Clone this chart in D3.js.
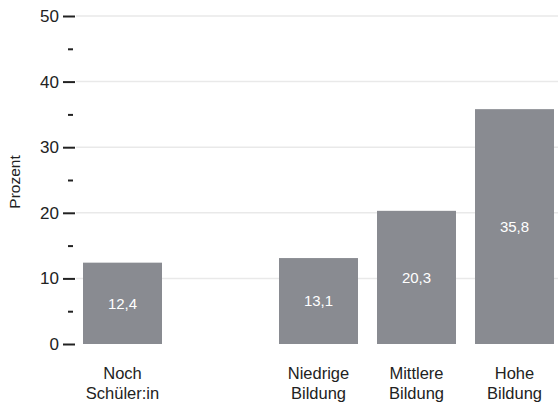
<!DOCTYPE html>
<html><head><meta charset="utf-8">
<script src="https://cdn.jsdelivr.net/npm/d3@7"></script>
<style>body{margin:0;background:#fff;font-family:Arial,"Liberation Sans",sans-serif;}</style>
</head><body><svg id="c" width="558" height="407"></svg>
<script>
const categories = ["Noch\nSchüler:in", "", "Niedrige\nBildung", "Mittlere\nBildung", "Hohe\nBildung"];
const values = [12.4, null, 13.1, 20.3, 35.8];
const majorTicks = [0, 10, 20, 30, 40, 50];
const minorTicks = [5, 15, 25, 35, 45];
const yTitle = "Prozent";

const FONT = "Arial, 'Liberation Sans', sans-serif";
const svg = d3.select("#c").style("font-family", FONT);
const y = d3.scaleLinear().domain([0, 50]).range([344, 16]);
const x = d3.scaleBand().domain(categories.map((c,i)=>i)).range([73.2, 563.8]).paddingInner(0.194).paddingOuter(0.1);

svg.append("g").selectAll("line").data(majorTicks.slice(1)).join("line")
  .attr("x1", 76).attr("x2", 558).attr("y1", d=>y(d)).attr("y2", d=>y(d))
  .attr("stroke", "#e9e9e9").attr("stroke-width", 1.5);

const ax = svg.append("g").attr("transform", "translate(75,0)")
  .call(d3.axisLeft(y).tickValues(majorTicks).tickSize(12).tickPadding(4).tickFormat(d3.format("d")));
ax.select(".domain").remove();
ax.selectAll(".tick line").attr("stroke", "#222").attr("stroke-width", 2);
ax.selectAll(".tick text").attr("fill", "#222").style("font-size", "17px").style("font-family", FONT);

const mx = svg.append("g").attr("transform", "translate(73,0)")
  .call(d3.axisLeft(y).tickValues(minorTicks).tickSize(5).tickFormat(""));
mx.select(".domain").remove();
mx.selectAll(".tick line").attr("stroke", "#222").attr("stroke-width", 2);

svg.append("text").attr("transform", "translate(20,182) rotate(-90)")
  .attr("text-anchor", "middle").attr("fill", "#222").style("font-size", "15.5px").text(yTitle);

const data = categories.map((c,i)=>({c, i, v: values[i]})).filter(d=>d.v!=null);

svg.append("g").selectAll("rect").data(data).join("rect")
  .attr("x", d=>x(d.i)).attr("width", x.bandwidth())
  .attr("y", d=>y(d.v)).attr("height", d=>y(0)-y(d.v))
  .attr("fill", "#898b91");

const fmt = v => d3.format(".1f")(v).replace(".", ",");
svg.append("g").selectAll("text").data(data).join("text")
  .attr("x", d=>x(d.i)+x.bandwidth()/2).attr("y", d=>(y(d.v)+y(0))/2)
  .attr("dy", "0.35em").attr("text-anchor", "middle").attr("fill", "#fff")
  .style("font-size", "15px").text(d=>fmt(d.v));

const lab = svg.append("g").selectAll("text").data(data).join("text")
  .attr("x", d=>x(d.i)+x.bandwidth()/2).attr("y", 379)
  .attr("text-anchor", "middle").attr("fill", "#222").style("font-size", "16.5px");
lab.selectAll("tspan").data(d=>d.c.split("\n").map(t=>({t, x: x(d.i)+x.bandwidth()/2}))).join("tspan")
  .attr("x", d=>d.x).attr("dy", (d,j)=>j?"20":"0").text(d=>d.t);
</script></body></html>
